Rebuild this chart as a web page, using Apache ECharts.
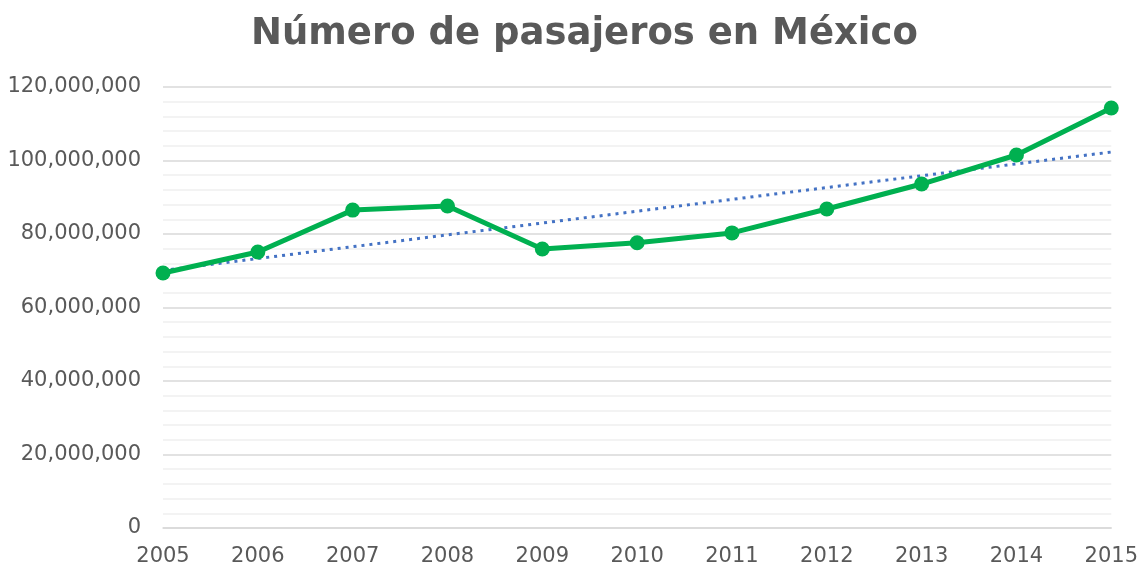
<!DOCTYPE html>
<html lang="es">
<head>
    <meta charset="UTF-8">
    <title>Número de pasajeros en México</title>
    <style>
        html, body { margin: 0; padding: 0; background: #fff; }
        #chart { width: 1141px; height: 569px; }
    </style>
</head>
<body>
<div id="chart"></div>
<script src="https://cdn.jsdelivr.net/npm/echarts@6/dist/echarts.min.js"></script>
<script>
    var years = ['2005', '2006', '2007', '2008', '2009', '2010', '2011', '2012', '2013', '2014', '2015'];
    var passengers = [69400000, 75100000, 86500000, 87600000, 75900000, 77600000, 80300000, 86800000, 93600000, 101500000, 114300000];
    // linear trend, read at both ends
    var trendStart = 70100000;
    var trendEnd = 102300000;

    var chart = echarts.init(document.getElementById('chart'));
    var font = '"DejaVu Sans", sans-serif';

    var option = {
        title: {
            text: 'Número de pasajeros en México',
            left: 246,
            top: 11,
            textStyle: {
                fontFamily: font,
                fontSize: 37,
                fontWeight: 'bold',
                color: '#595959'
            }
        },
        grid: {
            left: 163,
            right: 29,
            top: 87,
            bottom: 41
        },
        xAxis: {
            type: 'category',
            boundaryGap: false,
            data: years,
            axisLine: { show: true, lineStyle: { color: '#d9d9d9', width: 1.5 } },
            axisTick: { show: false },
            axisLabel: {
                fontFamily: font,
                fontSize: 21,
                color: '#595959',
                margin: 18
            },
            splitLine: { show: false }
        },
        yAxis: {
            type: 'value',
            min: 0,
            max: 120000000,
            interval: 20000000,
            axisLine: { show: false },
            axisTick: { show: false },
            minorTick: { show: false, splitNumber: 5 },
            minorSplitLine: { show: true, lineStyle: { color: '#f0f0f0', width: 1.5 } },
            splitLine: { lineStyle: { color: '#d9d9d9', width: 1.5 } },
            axisLabel: {
                fontFamily: font,
                fontSize: 21,
                color: '#595959',
                margin: 22,
                formatter: function (v) { return v.toLocaleString('en-US'); }
            }
        },
        series: [
            {
                name: 'Tendencia',
                type: 'line',
                data: [[years[0], trendStart], [years[years.length - 1], trendEnd]],
                symbol: 'none',
                lineStyle: { color: '#4472C4', width: 3, type: [3, 5] },
                z: 2
            },
            {
                name: 'Pasajeros',
                type: 'line',
                data: passengers,
                symbol: 'circle',
                symbolSize: 15,
                itemStyle: { color: '#00B050' },
                lineStyle: { color: '#00B050', width: 5 },
                z: 3
            }
        ]
    };

    chart.setOption(option);
</script>
</body>
</html>
